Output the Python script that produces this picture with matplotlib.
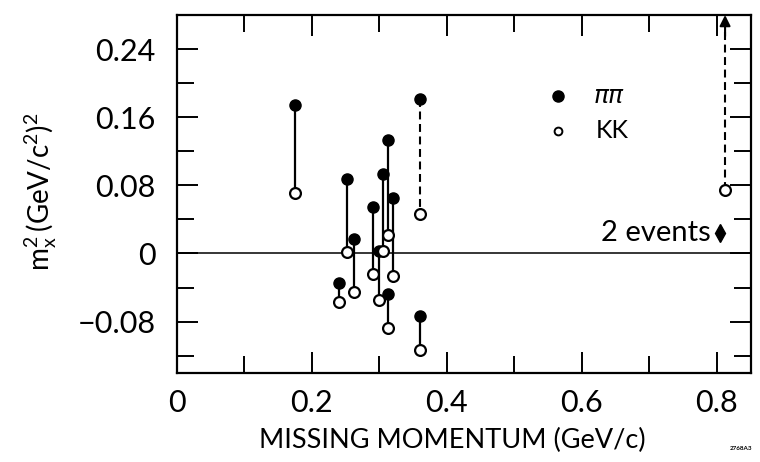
#!/usr/bin/env python3
"""Missing mass squared vs missing momentum, pi-pi and K-K hypotheses per event."""
import matplotlib
matplotlib.use("Agg")
import matplotlib.pyplot as plt
from matplotlib.ticker import MultipleLocator, FixedFormatter, FixedLocator

# events: filled = pi pi hypothesis, open = K K hypothesis (same momentum)
p_miss = [0.175, 0.252, 0.263, 0.240, 0.290, 0.306, 0.300, 0.313, 0.321, 0.313, 0.360, 0.360]
m2_pipi = [0.174, 0.087, 0.0165, -0.0345, 0.055, 0.093, 0.003, 0.133, 0.065, -0.048, 0.181, -0.074]
m2_kk = [0.0706, 0.002, -0.045, -0.057, -0.0245, 0.0025, -0.055, 0.022, -0.026, -0.0875, 0.046, -0.113]
dashed = [False] * 10 + [True, False]

# off-scale event (pi pi above the top) and the "2 events" marker
arrow_p, arrow_kk = 0.812, 0.075
two_ev_p, two_ev_m2 = 0.805, 0.024

y_ticks = [-0.08, 0, 0.08, 0.16, 0.24]
y_labels = ["\u22120.08", "0", "0.08", "0.16", "0.24"]
x_ticks = [0, 0.2, 0.4, 0.6, 0.8]
x_labels = ["0", "0.2", "0.4", "0.6", "0.8"]

plt.rcParams["font.family"] = ["Lato", "DejaVu Sans"]
plt.rcParams["mathtext.fontset"] = "custom"
plt.rcParams["mathtext.rm"] = "Lato"

fig = plt.figure(figsize=(7.6, 4.62), dpi=100)
ax = fig.add_axes([0.2325, 0.1933, 0.7553, 0.7742])
ax.set_xlim(0, 0.85)
ax.set_ylim(-0.14, 0.28)

ax.axhline(0, color="black", lw=1.1, zorder=1)

for x, a, b, d in zip(p_miss, m2_pipi, m2_kk, dashed):
    if d:
        ax.plot([x, x], [a, b], color="black", lw=1.5, dashes=(3.8, 2.2), zorder=2)
    else:
        ax.plot([x, x], [a, b], color="black", lw=1.6, zorder=2)
ax.plot(p_miss, m2_pipi, "o", ms=8, mfc="black", mec="black", zorder=4)
ax.plot(p_miss, m2_kk, "o", ms=7.8, mfc="white", mec="black", mew=1.6, zorder=4)

# off-scale event
ax.plot([arrow_p, arrow_p], [arrow_kk, 0.262], color="black", lw=1.5, dashes=(3.8, 2.2), zorder=2)
ax.annotate("", xy=(arrow_p, 0.28), xytext=(arrow_p, 0.255),
            arrowprops=dict(arrowstyle="-|>", color="black", lw=1.5, mutation_scale=16,
                            shrinkA=0, shrinkB=0))
ax.plot([arrow_p], [arrow_kk], "o", ms=7.8, mfc="white", mec="black", mew=1.6, zorder=4)

ax.plot([two_ev_p], [two_ev_m2], "d", ms=9, mfc="black", mec="black", zorder=4)
ax.text(0.791, two_ev_m2, "2 events", ha="right", va="center", fontsize=21)

# legend drawn by hand
ax.plot([0.565], [0.185], "o", ms=8, mfc="black", mec="black")
ax.plot([0.565], [0.144], "o", ms=5.6, mfc="white", mec="black", mew=1.4)
ax.text(0.618, 0.185, "\u03c0\u03c0", ha="left", va="center", fontsize=18, style="italic",
        family=["DejaVu Sans"])
ax.text(0.620, 0.144, "KK", ha="left", va="center", fontsize=18)

ax.xaxis.set_major_locator(FixedLocator(x_ticks))
ax.xaxis.set_major_formatter(FixedFormatter(x_labels))
ax.xaxis.set_minor_locator(MultipleLocator(0.1))
ax.yaxis.set_major_locator(FixedLocator(y_ticks))
ax.yaxis.set_major_formatter(FixedFormatter(y_labels))
ax.yaxis.set_minor_locator(MultipleLocator(0.04))

ax.tick_params(which="both", direction="in", top=True, right=True, width=1.4)
ax.tick_params(which="major", length=15)
ax.tick_params(which="minor", length=12)
ax.tick_params(axis="x", which="major", pad=12, labelsize=22)
ax.tick_params(axis="y", which="major", pad=15, labelsize=22)

for s in ax.spines.values():
    s.set_linewidth(1.6)

ax.set_xlabel("MISSING MOMENTUM (GeV/c)", fontsize=19.5)
ax.xaxis.set_label_coords(0.48, -0.155)
ax.set_ylabel(r"$\mathregular{m_x^2\,(GeV/c^2)^2}$", fontsize=20)
ax.yaxis.set_label_coords(-0.205, 0.505)

fig.text(0.975, 0.03, "2768A3", fontsize=4.5, weight="bold", ha="center", va="center")

fig.savefig("out.png", dpi=100)
